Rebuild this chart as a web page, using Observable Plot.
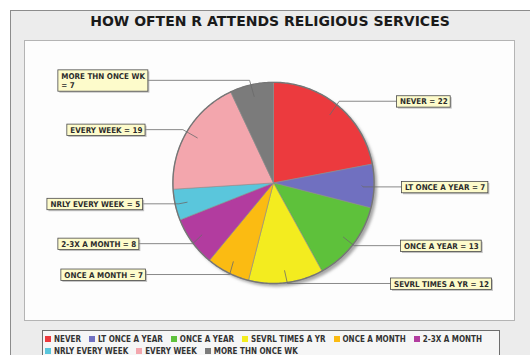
<!DOCTYPE html>
<html><head><meta charset="utf-8">
<script src="https://cdn.jsdelivr.net/npm/d3@7"></script>
<script src="https://cdn.jsdelivr.net/npm/@observablehq/plot@0.6"></script>
<style>
html,body{margin:0;padding:0;}
body{width:530px;height:355px;overflow:hidden;background:#fff;position:relative;font-family:"DejaVu Sans Condensed","DejaVu Sans",sans-serif;}
#panel{position:absolute;left:10px;top:10px;width:540px;height:360px;background:#ececec;border-left:1px solid #8c8c8c;border-top:1px solid #8c8c8c;}
#title{position:absolute;left:0;top:13px;width:540px;text-align:center;font-family:"DejaVu Sans",sans-serif;font-weight:bold;font-size:14px;color:#1a1a1a;letter-spacing:0;}
#plotbox{position:absolute;left:24px;top:40px;width:491px;height:281px;background:#fdfdfd;border:1px solid #b4b4b4;box-sizing:border-box;}
#plotbox svg{position:absolute;left:-1px;top:-1px;}
#legend{position:absolute;left:42px;top:330px;width:458px;height:40px;background:#f6f6f6;border:1px solid #6e6e6e;box-sizing:border-box;padding:2px 0 0 2px;display:flex;flex-wrap:wrap;align-content:flex-start;}
.li{display:flex;align-items:center;height:12px;margin-right:8px;font-size:8px;font-weight:bold;color:#333;white-space:nowrap;}
.sw{width:6px;height:6px;margin-right:3px;}
</style></head>
<body>
<div id="panel"></div>
<div id="title">HOW OFTEN R ATTENDS RELIGIOUS SERVICES</div>
<div id="plotbox"></div>
<div id="legend"></div>
<script>
// ---- data ----
const categories = ["NEVER","LT ONCE A YEAR","ONCE A YEAR","SEVRL TIMES A YR","ONCE A MONTH","2-3X A MONTH","NRLY EVERY WEEK","EVERY WEEK","MORE THN ONCE WK"];
const values = [22,7,13,12,7,8,5,19,7];
const colors = ["#ec3a3e","#7070c0","#5ec13b","#f3ec1f","#fbbb12","#b23c9f","#5ac6dc","#f3a6ad","#7b7b7b"];
const labelText = ["NEVER = 22","LT ONCE A YEAR = 7","ONCE A YEAR = 13","SEVRL TIMES A YR = 12","ONCE A MONTH = 7","2-3X A MONTH = 8","NRLY EVERY WEEK = 5","EVERY WEEK = 19","MORE THN ONCE WK\n= 7"];

// ---- layout (px relative to pie centre) ----
const boxX = [124,129,128,118,-213,-216,-227,-207,-216];
const boxY = [-82,4,63,101,92,61,21,-53.5,-103];
const elbowX = [66,90,81,14,-44,-81,-95,-91,-24];
const W = 491, H = 281, CX = 250, CY = 143, R = 101;

const arcs = d3.pie().sort(null)(values);
const deg = Math.PI / 180;
const slices = arcs.map((p, i) => {
  const n = Math.max(2, Math.ceil((p.endAngle - p.startAngle) / deg));
  const pts = [{x: 0, y: 0}];
  for (let k = 0; k <= n; k++) {
    const a = p.startAngle + (p.endAngle - p.startAngle) * k / n;
    pts.push({x: R * Math.sin(a), y: -R * Math.cos(a)});
  }
  pts.push({x: 0, y: 0});
  return pts;
});
const circle = d3.range(0, 361, 1).map(d => ({x: R * Math.sin(d * deg), y: -R * Math.cos(d * deg)}));

const leaders = [];
arcs.forEach((p, i) => {
  const m = (p.startAngle + p.endAngle) / 2;
  leaders.push({i, x: 0.88 * R * Math.sin(m), y: -0.88 * R * Math.cos(m)});
  leaders.push({i, x: elbowX[i], y: boxY[i]});
  leaders.push({i, x: boxX[i] + 2, y: boxY[i]});
});
const labels = categories.map((c, i) => ({i, x: boxX[i] + 3, y: boxY[i], t: labelText[i]}));

const chart = Plot.plot({
  width: W, height: H, margin: 0,
  style: {background: "transparent", overflow: "visible"},
  x: {domain: [-CX, W - CX], axis: null},
  y: {domain: [-CY, H - CY], reverse: true, axis: null},
  marks: [
    Plot.line(circle, {x: "x", y: "y", fill: "#8a8a8a", stroke: "none", dx: 3, dy: 3, fillOpacity: 0.75, className: "pie-shadow"}),
    ...slices.map((s, i) => Plot.line(s, {x: "x", y: "y", fill: colors[i], stroke: "#8e8e8e", strokeWidth: 0.6})),
    Plot.line(circle, {x: "x", y: "y", stroke: "#767676", strokeWidth: 1.4}),
    Plot.line(leaders, {x: "x", y: "y", z: "i", stroke: "#6a6a6a", strokeWidth: 0.8}),
    Plot.text(labels, {x: "x", y: "y", text: "t", textAnchor: "start", lineAnchor: "middle", lineHeight: 1.25,
      fontSize: 8, fontWeight: "bold", fill: "#2b2b2b", fontFamily: "DejaVu Sans Condensed", className: "pie-label"})
  ]
});
document.getElementById("plotbox").appendChild(chart);

// blur filter for shadow
const svg = d3.select(chart);
const defs = svg.insert("defs", ":first-child");
defs.append("filter").attr("id", "blur").attr("x", "-20%").attr("y", "-20%").attr("width", "140%").attr("height", "140%")
  .append("feGaussianBlur").attr("stdDeviation", 1.6);
svg.select(".pie-shadow").attr("filter", "url(#blur)");

// label boxes behind text
const lblG = svg.select(".pie-label");
const boxG = svg.insert("g", ".pie-label");
lblG.selectAll("text").each(function() {
  const b = this.getBBox();
  const tr = this.getAttribute("transform") || "";
  const x = b.x - 3, y = b.y - 1.2, w = b.width + 6, h = b.height + 2.4;
  const g = boxG.append("g").attr("transform", tr);
  g.append("rect").attr("x", x + 1.5).attr("y", y + 1.5).attr("width", w).attr("height", h).attr("fill", "#9a9a9a").attr("opacity", 0.6);
  g.append("rect").attr("x", x).attr("y", y).attr("width", w).attr("height", h).attr("fill", "#fdfbcb").attr("stroke", "#4a4a4a").attr("stroke-width", 0.8);
});

// legend
const leg = d3.select("#legend");
categories.forEach((c, i) => {
  const it = leg.append("div").attr("class", "li");
  it.append("div").attr("class", "sw").style("background", colors[i]);
  it.append("span").text(c);
});
</script>
</body></html>
